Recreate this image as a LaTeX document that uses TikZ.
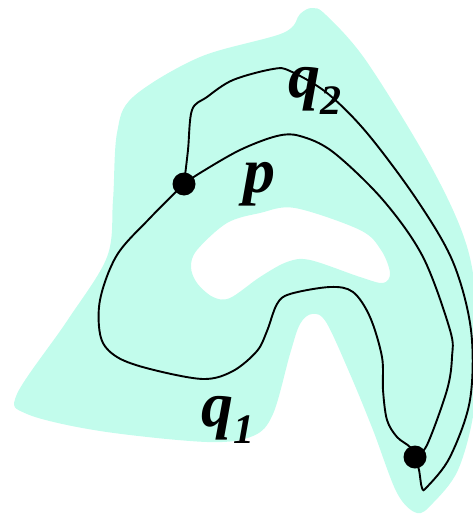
\documentclass[tikz,border=0pt]{standalone}
\usepackage{fontspec}
\setmainfont{Liberation Serif}
\definecolor{regionfill}{RGB}{194,252,236}
\tikzset{
  curve/.style={line width=1.9pt, black},
  dotnode/.style={circle, fill=black, inner sep=0pt, minimum size=23pt},
  lbl/.style={inner sep=0pt, anchor=base west, font=\bfseries\itshape\fontsize{64}{64}\selectfont},
}
\newcommand{\subtxt}[1]{\raisebox{-17pt}{\fontsize{42}{42}\selectfont #1}}
\begin{document}
\begin{tikzpicture}[x=1pt,y=-1pt]
\useasboundingbox (0,0) rectangle (472,514);
% region with hole
\fill[regionfill, even odd rule]
  plot[smooth cycle, tension=0.55] coordinates {
    (300,14) (312,8) (326,15) (367,62) (433,170) (468,250) (478,330) (474,410)
    (458,470) (433,503) (417,513) (397,493) (373,430) (350,374) (326,322)
    (312,314) (300,324) (290,354) (273,414) (253,436) (207,442) (100,431)
    (27,414) (17,394) (67,321) (107,257) (113,200) (117,133) (133,97)
    (200,57) (283,33)}
  plot[smooth cycle, tension=0.55] coordinates {
    (295,208) (360,230) (381,250) (390,273) (383,283) (360,277) (310,260)
    (287,262) (260,277) (230,298) (213,297) (197,283) (191,267) (197,250)
    (227,223) (260,213)};
% points
\coordinate (P) at (184,184);
\coordinate (Q) at (415,457);
% p
\draw[curve] plot[smooth, tension=0.55] coordinates {
  (P) (200,173) (240,150) (277,136) (300,136) (333,152) (383,200) (423,257)
  (450,330) (452,357) (447,390) (427,445) (Q)};
% q1
\draw[curve] plot[smooth, tension=0.55] coordinates {
  (P) (150,218) (117,255) (100,300) (101,338) (117,357) (150,369) (203,379)
  (233,371) (257,351) (267,331) (277,304) (290,294) (330,287) (353,292)
  (370,317) (382,357) (383,390) (387,420) (397,437) (410,447) (Q)};
% q2
\draw[curve] plot[smooth, tension=0.55] coordinates {
  (P) (188,150) (192,110) (207,97) (233,80) (273,69) (290,71) (327,93)
  (367,133) (417,200) (453,262) (471,330) (470,400) (450,457) (427,487)
  (422,488) (419,470) (Q)};
\node[dotnode] (Pd) at (P) {};
\node[dotnode] (Qd) at (Q) {};
% labels
\node[lbl] (lq2) at (288,97) {q\subtxt{2}};
\node[lbl] (lp) at (243,192) {p};
\node[lbl] (lq1) at (201,426) {q\subtxt{1}};
\end{tikzpicture}
\end{document}
